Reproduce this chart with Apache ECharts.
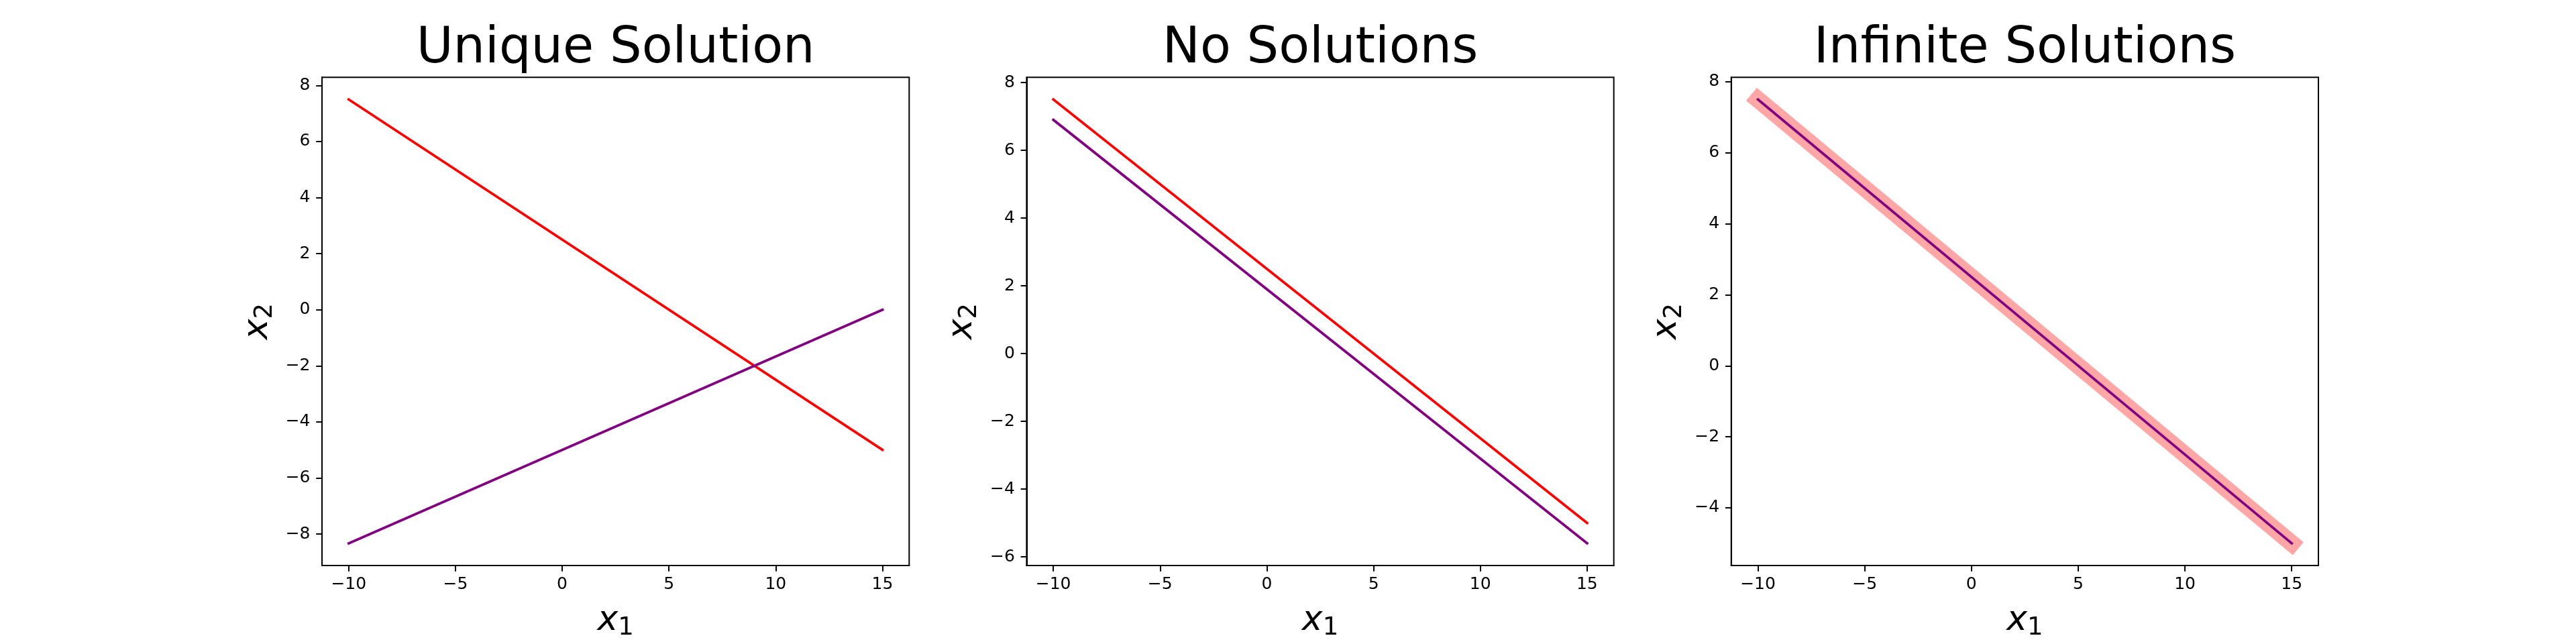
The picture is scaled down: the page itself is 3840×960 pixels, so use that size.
<!DOCTYPE html>
<html>
<head>
<meta charset="utf-8">
<script src="https://cdn.jsdelivr.net/npm/echarts@6/dist/echarts.min.js"></script>
<style>
html,body{margin:0;padding:0;background:#fff;}
#chart{width:3840px;height:960px;}
</style>
</head>
<body>
<div id="chart"></div>
<script>
// ---- data ----
const titles = ['Unique Solution', 'No Solutions', 'Infinite Solutions'];
const x1Values = [-10, 15];
const uniqueRed = [7.5, -5];
const uniquePurple = [-8.333, 0];
const noSolRed = [7.5, -5];
const noSolPurple = [6.9, -5.6];
const infRed = [7.5, -5];
const infPurple = [7.5, -5];
const xTicks = [-10, -5, 0, 5, 10, 15];
const yTicks1 = [-8, -6, -4, -2, 0, 2, 4, 6, 8];
const yTicks2 = [-6, -4, -2, 0, 2, 4, 6, 8];
const yTicks3 = [-4, -2, 0, 2, 4, 6, 8];

// ---- layout / style ----
const FONT = 'DejaVu Sans';
const gridW = 875.3, gridH = 739.2, gridTop = 115.2;
const gridLefts = [480, 480 + gridW * 1.2, 480 + gridW * 2.4];
const xRange = [-11.25, 16.25];
function yRange(vals) {
  const mn = Math.min.apply(null, vals), mx = Math.max.apply(null, vals);
  const m = (mx - mn) * 0.05;
  return [mn - m, mx + m];
}
const yRanges = [
  yRange(uniqueRed.concat(uniquePurple)),
  yRange(noSolRed.concat(noSolPurple)),
  yRange(infRed.concat(infPurple))
];
const yTickSets = [yTicks1, yTicks2, yTicks3];
const fmt = v => (v < 0 ? '\u2212' + Math.abs(v) : String(v));
const pairs = ys => x1Values.map((x, i) => [x, ys[i]]);

const nameRich = {
  a: {fontFamily: FONT, fontStyle: 'italic', fontSize: 52, lineHeight: 60, color: '#000', verticalAlign: 'middle'},
  b: {fontFamily: FONT, fontSize: 37, lineHeight: 37, color: '#000', verticalAlign: 'bottom'}
};

const axisLineStyle = {show: true, onZero: false, lineStyle: {color: '#000', width: 2}};
const grids = [], xAxes = [], yAxes = [], titleArr = [];
for (let i = 0; i < 3; i++) {
  grids.push({left: gridLefts[i], top: gridTop, width: gridW, height: gridH,
    show: true, borderColor: '#000', borderWidth: 2, backgroundColor: '#fff', containLabel: false});
  titleArr.push({text: titles[i], left: gridLefts[i] + gridW / 2, top: 36, textAlign: 'center', padding: 0,
    textStyle: {fontFamily: FONT, fontSize: 75, fontWeight: 'normal', color: '#000'}});
  xAxes.push({type: 'value', gridIndex: i, min: xRange[0], max: xRange[1],
    axisLine: axisLineStyle, splitLine: {show: false},
    axisTick: {show: true, inside: false, length: 8.75, lineStyle: {color: '#000', width: 2}, customValues: xTicks},
    axisLabel: {show: true, margin: 16, fontFamily: FONT, fontSize: 25, color: '#000', customValues: xTicks, formatter: fmt},
    name: '{a|x}{b|1}', nameLocation: 'middle', nameGap: 52, nameTextStyle: {rich: nameRich}
  });
  yAxes.push({type: 'value', gridIndex: i, min: yRanges[i][0], max: yRanges[i][1],
    axisLine: axisLineStyle, splitLine: {show: false},
    axisTick: {show: true, inside: false, length: 8.75, lineStyle: {color: '#000', width: 2}, customValues: yTickSets[i]},
    axisLabel: {show: true, margin: 17.5, fontFamily: FONT, fontSize: 25, color: '#000', customValues: yTickSets[i], formatter: fmt},
    name: '{a|x}{b|2}', nameLocation: 'middle', nameRotate: 90, nameGap: 66, nameTextStyle: {rich: nameRich}
  });
}

function lineSeries(idx, ys, color, width, z) {
  return {type: 'line', xAxisIndex: idx, yAxisIndex: idx, data: pairs(ys), showSymbol: false, symbol: 'none',
    z: z, lineStyle: {color: color, width: width, cap: 'square'}, silent: true};
}

const series = [
  lineSeries(0, uniqueRed, '#ff0000', 3.75, 2),
  lineSeries(0, uniquePurple, '#800080', 3.75, 3),
  lineSeries(1, noSolRed, '#ff0000', 3.75, 2),
  lineSeries(1, noSolPurple, '#800080', 3.75, 3),
  lineSeries(2, infRed, 'rgba(255,0,0,0.35)', 25, 2),
  lineSeries(2, infPurple, '#800080', 3.75, 3)
];

const chart = echarts.init(document.getElementById('chart'), null, {renderer: 'canvas'});
chart.setOption({
  animation: false,
  backgroundColor: '#fff',
  title: titleArr,
  grid: grids,
  xAxis: xAxes,
  yAxis: yAxes,
  series: series
});
</script>
</body>
</html>
